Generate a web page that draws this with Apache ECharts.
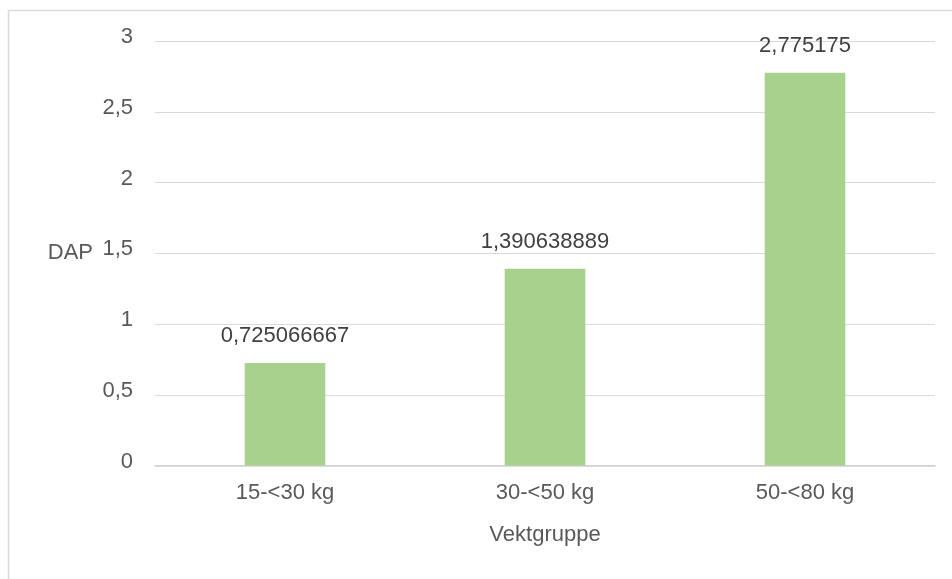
<!DOCTYPE html>
<html>
<head>
<meta charset="utf-8">
<script src="https://cdn.jsdelivr.net/npm/echarts@6/dist/echarts.min.js"></script>
<style>
  html, body { margin: 0; padding: 0; background: #fff; }
  #chart { width: 952px; height: 579px; }
</style>
</head>
<body>
<div id="chart"></div>
<script>
// Average DAP per weight group
const categories = ['15-<30 kg', '30-<50 kg', '50-<80 kg'];
const dapValues = [0.725066667, 1.390638889, 2.775175];
const yTicks = { min: 0, max: 3, interval: 0.5 };

const fmt = v => String(v).replace('.', ',');
const font = '"Liberation Sans", Arial, Helvetica, sans-serif';
const fs = 22;

const chart = echarts.init(document.getElementById('chart'));
chart.setOption({
  animation: false,
  backgroundColor: '#fff',
  graphic: [{
    type: 'rect',
    shape: { x: 8.5, y: 10.5, width: 960, height: 600 },
    style: { fill: 'none', stroke: '#d9d9d9', lineWidth: 1.5 },
    silent: true
  }],
  grid: { left: 155, right: 17, top: 41, bottom: 113.5, containLabel: false },
  xAxis: {
    type: 'category',
    data: categories,
    name: 'Vektgruppe',
    nameLocation: 'middle',
    nameGap: 58,
    nameTextStyle: { color: '#595959', fontSize: fs, fontFamily: font },
    axisLine: { lineStyle: { color: '#d0d0d0', width: 1.5 } },
    axisTick: { show: false },
    axisLabel: { color: '#595959', fontSize: fs, fontFamily: font, margin: 16 }
  },
  yAxis: {
    type: 'value',
    min: yTicks.min,
    max: yTicks.max,
    interval: yTicks.interval,
    name: 'DAP',
    nameLocation: 'middle',
    nameRotate: 0,
    nameGap: 62,
    nameTextStyle: { color: '#595959', fontSize: fs, fontFamily: font, align: 'right' },
    axisLine: { show: false },
    axisTick: { show: false },
    splitLine: { lineStyle: { color: '#d9d9d9', width: 1 } },
    axisLabel: {
      color: '#595959', fontSize: fs, fontFamily: font, margin: 22,
      formatter: v => '{t|' + fmt(v) + '}',
      rich: {
        t: { color: '#595959', fontSize: fs, fontFamily: font, padding: [0, 0, 8, 0] }
      }
    }
  },
  series: [{
    type: 'bar',
    data: dapValues,
    barWidth: '31%',
    itemStyle: { color: '#a9d18e' },
    label: {
      show: true,
      position: 'top',
      distance: 16,
      color: '#404040',
      fontSize: fs,
      fontFamily: font,
      formatter: p => fmt(p.value)
    }
  }]
});
</script>
</body>
</html>
